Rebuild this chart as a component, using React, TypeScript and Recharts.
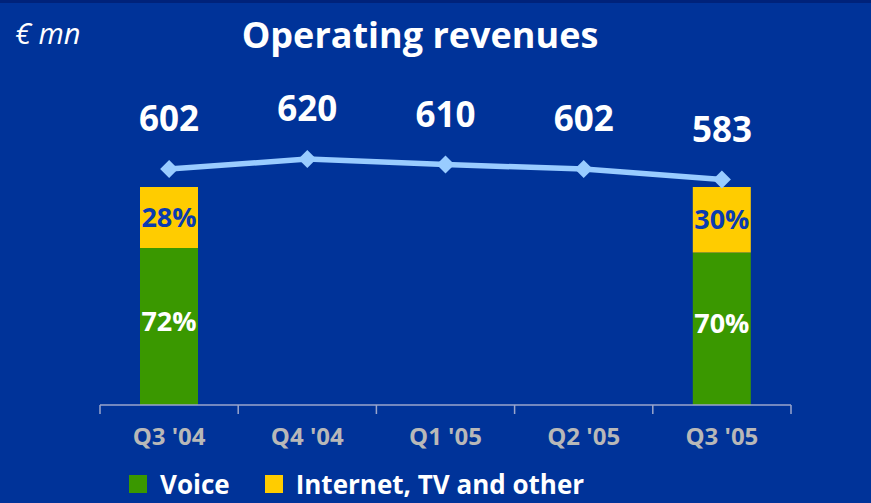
import React from 'react';
import { ComposedChart, Bar, Line, XAxis, YAxis, LabelList } from 'recharts';

// --- DADOS ---
const quarters = ["Q3 '04", "Q4 '04", "Q1 '05", "Q2 '05", "Q3 '05"];
const revenues = [602, 620, 610, 602, 583];
const voiceShare = [72, null, null, null, 70];
const internetShare = [28, null, null, null, 30];
const boundaryTicks = [0, 0.5, 1, 1.5, 2, 2.5, 3, 3.5, 4, 4.5, 5];

const BG = '#003399';
const GREEN = '#3a9800';
const YELLOW = '#ffcc00';
const LINE = '#99ccff';
const FONT = '"Open Sans", "DejaVu Sans", sans-serif';

const data = quarters.map((q, i) => ({
    x: i + 0.5,
    label: q,
    revenue: revenues[i],
    voice: voiceShare[i],
    internet: internetShare[i],
}));

// tick: inteiros = marca de divisão, meios = rótulo do trimestre
const AxisTick = ({ x, y, payload }: any) => {
    const v = payload.value;
    if (Number.isInteger(v)) {
        return <line x1={x} x2={x} y1={y} y2={y + 9} stroke="#9aa6cc" strokeWidth={1.5} />;
    }
    const idx = Math.floor(v);
    return (
        <text x={x} y={y + 40} textAnchor="middle" fill="#b8b8b8" fontSize={24} fontWeight={700} fontFamily={FONT}>
            {quarters[idx]}
        </text>
    );
};

const Diamond = ({ cx, cy }: any) => {
    if (cx == null || cy == null) return null;
    const r = 9;
    return <polygon points={`${cx},${cy - r} ${cx + r},${cy} ${cx},${cy + r} ${cx - r},${cy}`} fill={LINE} />;
};

const pct = (v: any) => (v == null ? '' : `${v}%`);

export default function App() {
    return (
        <div style={{ position: 'absolute', left: 0, top: 0, width: 871, height: 503, background: BG, borderTop: '3px solid #00227a', boxSizing: 'border-box', fontFamily: FONT, overflow: 'hidden' }}>
            <div style={{ position: 'absolute', left: 15, top: 10, color: '#fff', fontStyle: 'italic', fontSize: 29 }}>€ mn</div>
            <div style={{ position: 'absolute', left: 0, width: 840, top: 7, textAlign: 'center', color: '#fff', fontWeight: 700, fontSize: 36 }}>
                Operating revenues
            </div>
            <div style={{ position: 'absolute', left: 0, top: -3 }}>
                <ComposedChart width={871} height={503} data={data} margin={{ top: 80, right: 80, left: 100, bottom: 0 }}>
                    <XAxis
                        dataKey="x"
                        type="number"
                        domain={[0, 5]}
                        ticks={boundaryTicks}
                        interval={0}
                        tickSize={0}
                        tickMargin={0}
                        tickLine={false}
                        axisLine={{ stroke: '#9aa6cc', strokeWidth: 1.5 }}
                        tick={<AxisTick />}
                        height={98}
                    />
                    <YAxis yAxisId="pct" hide domain={[0, 149.1]} />
                    <YAxis yAxisId="rev" hide domain={[178, 762]} />
                    <Bar yAxisId="pct" dataKey="voice" stackId="s" fill={GREEN} barSize={58} isAnimationActive={false}>
                        <LabelList dataKey="voice" position="center" formatter={pct} fill="#fff" fontSize={27} fontWeight={700} fontFamily={FONT} dy={-5} />
                    </Bar>
                    <Bar yAxisId="pct" dataKey="internet" stackId="s" fill={YELLOW} barSize={58} isAnimationActive={false}>
                        <LabelList dataKey="internet" position="center" formatter={pct} fill="#0a3bb0" fontSize={27} fontWeight={700} fontFamily={FONT} />
                    </Bar>
                    <Line
                        yAxisId="rev"
                        dataKey="revenue"
                        stroke={LINE}
                        strokeWidth={5.5}
                        dot={<Diamond />}
                        activeDot={false}
                        isAnimationActive={false}
                    >
                        <LabelList dataKey="revenue" position="top" offset={38} fill="#fff" fontSize={35} fontWeight={700} fontFamily={FONT} />
                    </Line>
                </ComposedChart>
            </div>
            <div style={{ position: 'absolute', left: 129, top: 463, display: 'flex', alignItems: 'center', color: '#fff', fontWeight: 700, fontSize: 26 }}>
                <span style={{ width: 18, height: 18, background: GREEN, marginRight: 13 }} />
                <span style={{ marginRight: 35 }}>Voice</span>
                <span style={{ width: 18, height: 18, background: YELLOW, marginRight: 13 }} />
                <span>Internet, TV and other</span>
            </div>
        </div>
    );
}
